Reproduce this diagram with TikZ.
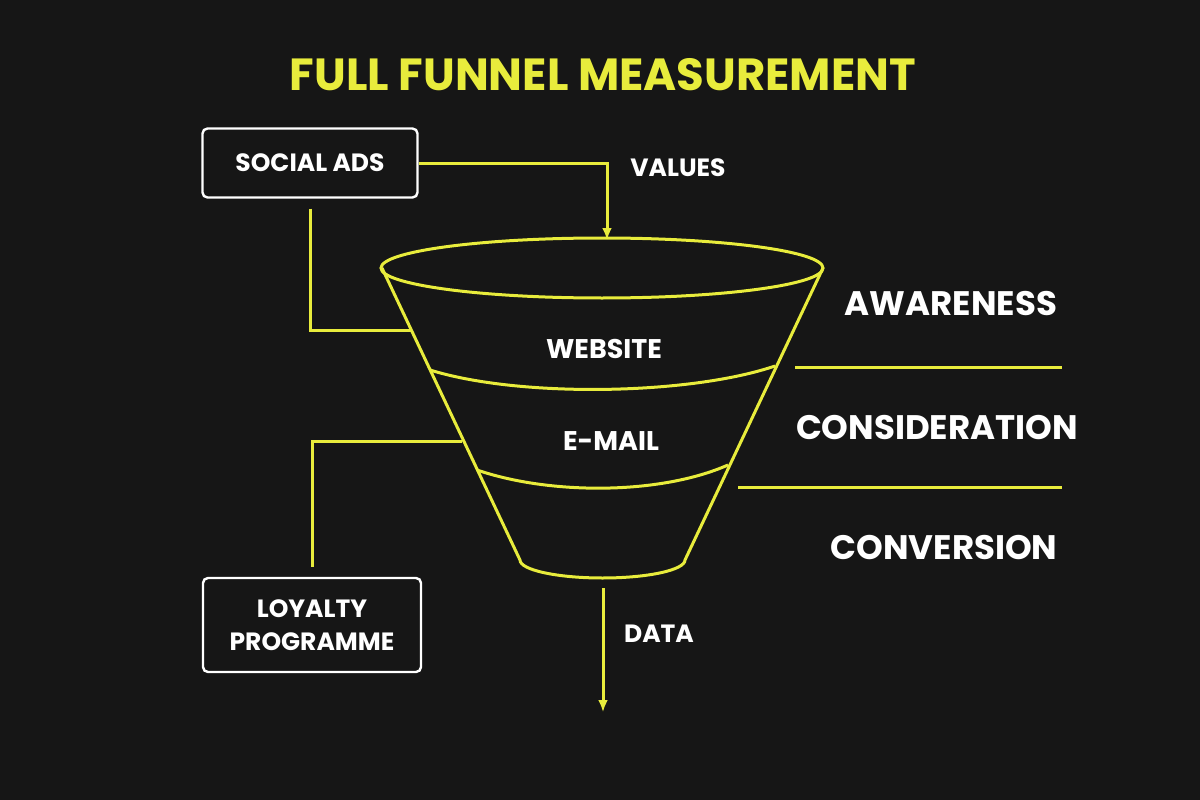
\documentclass[tikz,border=0pt]{standalone}
\usepackage{fontspec}
\setmainfont{Poppins}
\usetikzlibrary{arrows.meta}
\definecolor{spot}{HTML}{E8EC3C}
\definecolor{bg}{HTML}{161616}
\tikzset{
  every node/.style={
    text=white, font=\bfseries
  },
  yline/.style={spot, line width=3pt},
  box/.style={draw=white, line width=2.4pt, rounded corners=5pt, align=center},
  stage/.style={font=\fontsize{34}{40}\selectfont\bfseries},
  small/.style={font=\fontsize{25}{33}\selectfont\bfseries}
}

\begin{document}
\begin{tikzpicture}[x=1pt,y=-1pt]
    \fill[bg] (0,0) rectangle (1200,800);
    \useasboundingbox (0,0) rectangle (1200,800);

    \node[text=spot, font=\fontsize{45}{50}\selectfont\bfseries] (title) at (603,75) {FULL FUNNEL MEASUREMENT};

    \node[box, small, minimum width=215pt, minimum height=69pt] (social) at (310,163) {SOCIAL ADS};
    \node[box, small, minimum width=218pt, minimum height=94pt] (loyal) at (312,625) {LOYALTY\\PROGRAMME};

    % funnel
    \coordinate (tl) at (382,268);
    \coordinate (tr) at (823,268);
    \coordinate (bl) at (520,560);
    \coordinate (br) at (685,560);
    \draw[yline] (602,268) ellipse [x radius=221, y radius=30];
    \draw[yline] (tl) -- (bl) arc [start angle=180, end angle=0, x radius=82.5, y radius=18] -- (tr);
    \draw[yline] (430,370) .. controls (520,398) and (690,395) .. (775,366);
    \draw[yline] (477,470) .. controls (550,495) and (660,495) .. (728,465);
    \coordinate (s1) at (411,330);
    \coordinate (s2) at (462,441);

    \node[small, font=\fontsize{27}{32}\selectfont\bfseries] (web) at (604,349) {WEBSITE};
    \node[small, font=\fontsize{27}{32}\selectfont\bfseries] (mail) at (611,441) {E-MAIL};

    % stages
    \node[stage] (aw) at (951,304) {AWARENESS};
    \node[stage] (cons) at (937,428) {CONSIDERATION};
    \node[stage] (conv) at (944,548) {CONVERSION};
    \draw[yline] (795,367) -- (1062,367);
    \draw[yline] (738,487) -- (1062,487);

    % connectors
    \coordinate (vin) at (607,240);
    \draw[yline, -{Latex[length=12pt,width=10pt]}] (social.east) -| (vin);
    \node[small] (values) at (678,168) {VALUES};
    \draw[yline] ([yshift=-10pt]social.south) |- (s1);
    \draw[yline] ([yshift=10pt]loyal.north) |- (s2);
    \coordinate (dtop) at (603,588);
    \coordinate (dend) at (603,712);
    \draw[yline, -{Latex[length=12pt,width=10pt]}] (dtop) -- (dend);
    \node[small] (data) at (659,634) {DATA};
\end{tikzpicture}
\end{document}
